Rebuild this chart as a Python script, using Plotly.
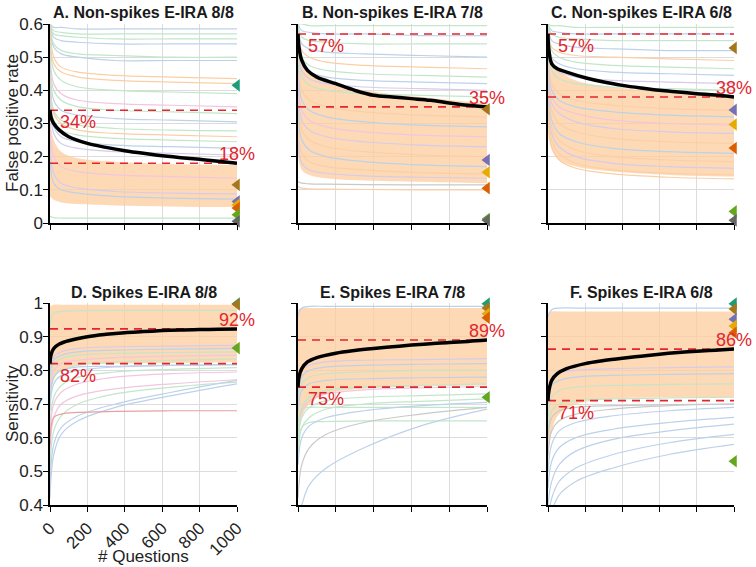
import plotly.graph_objects as go

# ---------------- data ----------------
PANEL_TITLES = ["A. Non-spikes E-IRA 8/8", "B. Non-spikes E-IRA 7/8", "C. Non-spikes E-IRA 6/8",
                "D. Spikes E-IRA 8/8", "E. Spikes E-IRA 7/8", "F. Spikes E-IRA 6/8"]
X_TICKS = [0, 200, 400, 600, 800, 1000]
Y_TICKS_TOP = [0, 0.1, 0.2, 0.3, 0.4, 0.5, 0.6]
Y_TICK_LABELS_TOP = ["0", "0.1", "0.2", "0.3", "0.4", "0.5", "0.6"]
Y_TICKS_BOT = [0.4, 0.5, 0.6, 0.7, 0.8, 0.9, 1.0]
Y_TICK_LABELS_BOT = ["0.4", "0.5", "0.6", "0.7", "0.8", "0.9", "1"]

# number of questions at which the mean curves were read
MEAN_X = [0, 5, 20, 50, 100, 200, 300, 400, 500, 600, 700, 800, 900, 1000]
A_MEAN = [0.34, 0.32, 0.30, 0.28, 0.26, 0.24, 0.228, 0.218, 0.21, 0.203, 0.197, 0.192, 0.186, 0.18]
B_MEAN = [0.57, 0.53, 0.49, 0.46, 0.44, 0.42, 0.40, 0.385, 0.38, 0.375, 0.37, 0.362, 0.355, 0.35]
C_MEAN = [0.57, 0.52, 0.48, 0.465, 0.455, 0.438, 0.425, 0.415, 0.407, 0.40, 0.395, 0.39, 0.386, 0.38]
D_MEAN = [0.82, 0.845, 0.865, 0.878, 0.888, 0.90, 0.907, 0.912, 0.915, 0.918, 0.92, 0.921, 0.922, 0.923]
E_MEAN = [0.75, 0.78, 0.805, 0.825, 0.838, 0.851, 0.859, 0.865, 0.87, 0.875, 0.879, 0.883, 0.886, 0.89]
F_MEAN = [0.71, 0.74, 0.77, 0.79, 0.805, 0.82, 0.829, 0.836, 0.842, 0.848, 0.853, 0.857, 0.86, 0.863]

# background (individual) curves, read at these numbers of questions
BG_X = [0, 20, 60, 150, 350, 650, 1000]

A_BAND_LO = [0.08, 0.07, 0.062, 0.057, 0.053, 0.05, 0.048]
A_BAND_HI = [0.33, 0.25, 0.215, 0.195, 0.185, 0.178, 0.175]
A_LINES = [
    [0.60, 0.59, 0.59, 0.585, 0.585, 0.585, 0.585],
    [0.60, 0.58, 0.575, 0.57, 0.57, 0.57, 0.57],
    [0.60, 0.57, 0.565, 0.56, 0.555, 0.555, 0.555],
    [0.60, 0.56, 0.55, 0.545, 0.54, 0.54, 0.54],
    [0.60, 0.54, 0.52, 0.51, 0.505, 0.50, 0.50],
    [0.59, 0.53, 0.51, 0.50, 0.49, 0.49, 0.49],
    [0.60, 0.50, 0.47, 0.455, 0.445, 0.44, 0.435],
    [0.58, 0.48, 0.455, 0.44, 0.43, 0.425, 0.42],
    [0.55, 0.46, 0.43, 0.41, 0.40, 0.395, 0.39],
    [0.52, 0.42, 0.39, 0.37, 0.36, 0.355, 0.35],
    [0.50, 0.40, 0.37, 0.35, 0.34, 0.335, 0.33],
    [0.48, 0.37, 0.34, 0.325, 0.315, 0.31, 0.305],
    [0.45, 0.34, 0.31, 0.295, 0.285, 0.28, 0.278],
    [0.44, 0.33, 0.30, 0.28, 0.27, 0.265, 0.26],
    [0.42, 0.31, 0.28, 0.265, 0.255, 0.25, 0.245],
    [0.40, 0.29, 0.26, 0.245, 0.235, 0.23, 0.225],
    [0.38, 0.27, 0.24, 0.225, 0.215, 0.21, 0.205],
    [0.30, 0.20, 0.17, 0.155, 0.145, 0.14, 0.135],
    [0.25, 0.15, 0.12, 0.105, 0.095, 0.09, 0.088],
    [0.20, 0.12, 0.10, 0.09, 0.08, 0.075, 0.072],
    [0.02, 0.016, 0.015, 0.015, 0.015, 0.015, 0.015],
]
A_LINE_COLORS = ["blue", "green", "green", "blue", "green", "blue", "orange", "orange", "green", "pink",
                 "green", "blue", "green", "orange", "green", "blue", "lavender", "pink", "lavender",
                 "blue", "green"]

B_BAND_LO = [0.20, 0.16, 0.145, 0.135, 0.128, 0.124, 0.12]
B_BAND_HI = [0.57, 0.50, 0.46, 0.43, 0.40, 0.38, 0.36]
B_LINES = [
    [0.60, 0.60, 0.595, 0.595, 0.595, 0.595, 0.595],
    [0.60, 0.58, 0.575, 0.57, 0.57, 0.565, 0.565],
    [0.60, 0.56, 0.55, 0.545, 0.54, 0.54, 0.54],
    [0.60, 0.54, 0.525, 0.515, 0.51, 0.505, 0.50],
    [0.60, 0.52, 0.50, 0.485, 0.475, 0.47, 0.465],
    [0.60, 0.50, 0.475, 0.46, 0.45, 0.445, 0.44],
    [0.58, 0.48, 0.455, 0.44, 0.43, 0.425, 0.42],
    [0.56, 0.46, 0.435, 0.42, 0.41, 0.405, 0.40],
    [0.55, 0.44, 0.415, 0.40, 0.39, 0.385, 0.38],
    [0.50, 0.40, 0.37, 0.35, 0.335, 0.325, 0.32],
    [0.48, 0.37, 0.34, 0.32, 0.305, 0.295, 0.29],
    [0.45, 0.34, 0.31, 0.29, 0.275, 0.265, 0.26],
    [0.42, 0.31, 0.28, 0.26, 0.245, 0.235, 0.23],
    [0.38, 0.28, 0.25, 0.23, 0.215, 0.205, 0.20],
    [0.35, 0.25, 0.22, 0.20, 0.185, 0.175, 0.17],
    [0.30, 0.21, 0.185, 0.17, 0.16, 0.152, 0.148],
    [0.25, 0.18, 0.16, 0.15, 0.142, 0.138, 0.135],
    [0.125, 0.12, 0.118, 0.117, 0.116, 0.115, 0.115],
    [0.11, 0.105, 0.103, 0.102, 0.101, 0.10, 0.10],
]
B_LINE_COLORS = ["green", "blue", "green", "blue", "orange", "green", "blue", "lavender", "green",
                 "orange", "blue", "pink", "lavender", "orange", "blue", "orange", "lavender", "gray",
                 "orange"]

C_BAND_LO = [0.27, 0.22, 0.19, 0.17, 0.155, 0.145, 0.14]
C_BAND_HI = [0.57, 0.50, 0.46, 0.43, 0.41, 0.395, 0.385]
C_LINES = [
    [0.60, 0.595, 0.595, 0.59, 0.59, 0.59, 0.59],
    [0.60, 0.58, 0.575, 0.57, 0.57, 0.57, 0.57],
    [0.60, 0.57, 0.56, 0.555, 0.55, 0.55, 0.55],
    [0.60, 0.55, 0.54, 0.53, 0.525, 0.52, 0.52],
    [0.60, 0.53, 0.515, 0.505, 0.50, 0.495, 0.49],
    [0.60, 0.52, 0.50, 0.485, 0.475, 0.47, 0.465],
    [0.58, 0.50, 0.48, 0.465, 0.455, 0.45, 0.445],
    [0.57, 0.48, 0.455, 0.44, 0.43, 0.425, 0.42],
    [0.56, 0.46, 0.435, 0.42, 0.41, 0.405, 0.40],
    [0.52, 0.42, 0.39, 0.37, 0.355, 0.345, 0.34],
    [0.50, 0.40, 0.37, 0.35, 0.335, 0.325, 0.32],
    [0.48, 0.38, 0.35, 0.33, 0.31, 0.30, 0.295],
    [0.46, 0.36, 0.33, 0.305, 0.285, 0.275, 0.27],
    [0.44, 0.34, 0.30, 0.275, 0.255, 0.245, 0.24],
    [0.42, 0.31, 0.27, 0.245, 0.225, 0.215, 0.21],
    [0.40, 0.29, 0.25, 0.22, 0.20, 0.19, 0.185],
    [0.38, 0.27, 0.23, 0.20, 0.18, 0.17, 0.165],
    [0.35, 0.25, 0.21, 0.18, 0.16, 0.15, 0.145],
    [0.32, 0.23, 0.19, 0.165, 0.148, 0.138, 0.133],
]
C_LINE_COLORS = ["green", "blue", "green", "blue", "orange", "green", "blue", "lavender", "green",
                 "orange", "blue", "pink", "lavender", "orange", "blue", "orange", "lavender",
                 "orange", "orange"]

D_BAND_LO = [0.70, 0.77, 0.80, 0.815, 0.82, 0.822, 0.825]
D_BAND_HI = [0.99, 0.995, 0.995, 0.995, 0.995, 0.995, 0.995]
D_LINES = [
    [0.93, 0.97, 0.975, 0.977, 0.978, 0.978, 0.978],
    [0.80, 0.84, 0.855, 0.865, 0.87, 0.872, 0.874],
    [0.78, 0.83, 0.845, 0.855, 0.86, 0.863, 0.865],
    [0.76, 0.82, 0.835, 0.845, 0.85, 0.853, 0.855],
    [0.74, 0.80, 0.82, 0.83, 0.838, 0.842, 0.845],
    [0.70, 0.78, 0.80, 0.815, 0.825, 0.83, 0.833],
    [0.70, 0.78, 0.80, 0.81, 0.812, 0.815, 0.816],
    [0.68, 0.76, 0.785, 0.80, 0.81, 0.815, 0.818],
    [0.62, 0.72, 0.755, 0.78, 0.795, 0.803, 0.808],
    [0.60, 0.70, 0.735, 0.76, 0.78, 0.79, 0.795],
    [0.55, 0.66, 0.70, 0.725, 0.745, 0.76, 0.772],
    [0.50, 0.62, 0.665, 0.70, 0.73, 0.75, 0.765],
    [0.45, 0.58, 0.63, 0.665, 0.70, 0.735, 0.77],
    [0.42, 0.55, 0.61, 0.65, 0.69, 0.725, 0.76],
    [0.58, 0.66, 0.67, 0.675, 0.678, 0.68, 0.68],
]
D_LINE_COLORS = ["green", "lavender", "blue", "green", "pink", "green", "blue", "blue", "green",
                 "pink", "pink", "green", "blue", "blue", "red"]

E_BAND_LO = [0.55, 0.66, 0.70, 0.73, 0.745, 0.752, 0.755]
E_BAND_HI = [0.98, 0.985, 0.985, 0.985, 0.985, 0.985, 0.985]
E_LINES = [
    [0.96, 0.985, 0.99, 0.99, 0.99, 0.99, 0.99],
    [0.75, 0.80, 0.815, 0.825, 0.83, 0.832, 0.835],
    [0.72, 0.78, 0.80, 0.81, 0.815, 0.818, 0.82],
    [0.70, 0.76, 0.78, 0.79, 0.795, 0.80, 0.80],
    [0.68, 0.74, 0.76, 0.77, 0.775, 0.778, 0.78],
    [0.60, 0.68, 0.71, 0.73, 0.742, 0.748, 0.752],
    [0.62, 0.69, 0.72, 0.74, 0.75, 0.755, 0.76],
    [0.58, 0.66, 0.69, 0.71, 0.72, 0.725, 0.73],
    [0.55, 0.63, 0.66, 0.685, 0.70, 0.708, 0.715],
    [0.62, 0.685, 0.69, 0.69, 0.69, 0.69, 0.69],
    [0.55, 0.63, 0.645, 0.648, 0.65, 0.65, 0.65],
    [0.52, 0.60, 0.635, 0.66, 0.68, 0.695, 0.705],
    [0.42, 0.52, 0.57, 0.61, 0.645, 0.67, 0.69],
    [0.36, 0.40, 0.46, 0.51, 0.57, 0.635, 0.685],
]
E_LINE_COLORS = ["blue", "lavender", "blue", "green", "blue", "pink", "green", "green", "green",
                 "green", "green", "blue", "gray", "blue"]

F_BAND_LO = [0.50, 0.62, 0.67, 0.70, 0.715, 0.72, 0.72]
F_BAND_HI = [0.97, 0.975, 0.975, 0.975, 0.975, 0.975, 0.975]
F_LINES = [
    [0.96, 0.98, 0.985, 0.985, 0.985, 0.985, 0.985],
    [0.74, 0.78, 0.795, 0.80, 0.805, 0.808, 0.81],
    [0.70, 0.755, 0.77, 0.78, 0.785, 0.788, 0.79],
    [0.66, 0.72, 0.74, 0.75, 0.755, 0.758, 0.76],
    [0.62, 0.68, 0.70, 0.71, 0.715, 0.718, 0.72],
    [0.60, 0.66, 0.68, 0.69, 0.695, 0.698, 0.70],
    [0.55, 0.62, 0.65, 0.67, 0.685, 0.695, 0.70],
    [0.50, 0.58, 0.62, 0.645, 0.665, 0.68, 0.69],
    [0.45, 0.53, 0.57, 0.60, 0.625, 0.645, 0.66],
    [0.40, 0.47, 0.52, 0.56, 0.595, 0.62, 0.64],
    [0.36, 0.42, 0.47, 0.51, 0.55, 0.585, 0.61],
    [0.33, 0.38, 0.43, 0.47, 0.51, 0.55, 0.58],
]
F_LINE_COLORS = ["blue", "lavender", "blue", "green", "green", "gray", "gray", "blue", "blue",
                 "blue", "blue", "blue"]

# group markers at the final number of questions (Dark2 colours)
A_TRI_VALUES = [0.415, 0.115, 0.065, 0.055, 0.045, 0.025, 0.005]
A_TRI_COLORS = ["teal", "brown", "purple", "yellow", "orange", "green", "gray"]
B_TRI_VALUES = [0.343, 0.19, 0.153, 0.105, 0.012, 0.008]
B_TRI_COLORS = ["brown", "purple", "yellow", "orange", "green", "gray"]
C_TRI_VALUES = [0.528, 0.341, 0.297, 0.226, 0.035, 0.008]
C_TRI_COLORS = ["brown", "purple", "yellow", "orange", "green", "gray"]
D_TRI_VALUES = [0.998, 0.996, 0.866]
D_TRI_COLORS = ["teal", "brown", "green"]
E_TRI_VALUES = [0.998, 0.985, 0.968, 0.956, 0.72]
E_TRI_COLORS = ["teal", "brown", "yellow", "orange", "green"]
F_TRI_VALUES = [0.998, 0.982, 0.952, 0.932, 0.912, 0.53]
F_TRI_COLORS = ["teal", "brown", "purple", "yellow", "orange", "green"]

# ---------------- styles ----------------
PASTEL = {"green": "#c2e6c9", "blue": "#bcd2ea", "orange": "#fbcfa6", "pink": "#f1c6de",
          "lavender": "#d6cbeb", "gray": "#c9c9c9", "red": "#e6a1a1"}
DARK2 = {"teal": "#1b9e77", "orange": "#d95f02", "purple": "#7570b3", "green": "#66a61e",
         "yellow": "#e6ab02", "brown": "#a6761d", "gray": "#666666"}
FONT = "Liberation Sans, Arial, sans-serif"
RED = "#e3262e"

panels = [
    (A_MEAN, A_LINES, A_LINE_COLORS, A_BAND_LO, A_BAND_HI, A_TRI_VALUES, A_TRI_COLORS),
    (B_MEAN, B_LINES, B_LINE_COLORS, B_BAND_LO, B_BAND_HI, B_TRI_VALUES, B_TRI_COLORS),
    (C_MEAN, C_LINES, C_LINE_COLORS, C_BAND_LO, C_BAND_HI, C_TRI_VALUES, C_TRI_COLORS),
    (D_MEAN, D_LINES, D_LINE_COLORS, D_BAND_LO, D_BAND_HI, D_TRI_VALUES, D_TRI_COLORS),
    (E_MEAN, E_LINES, E_LINE_COLORS, E_BAND_LO, E_BAND_HI, E_TRI_VALUES, E_TRI_COLORS),
    (F_MEAN, F_LINES, F_LINE_COLORS, F_BAND_LO, F_BAND_HI, F_TRI_VALUES, F_TRI_COLORS),
]

W, H = 756, 567
COLS_PX = [(50, 237), (298, 487), (548, 734)]
ROWS_PX = [(24, 223), (303, 505)]


def px_x(p):
    return p / W


def px_y(p):
    return 1 - p / H


fig = go.Figure()
annotations = []

for i, (mean, lines, lcols, blo, bhi, tv, tc) in enumerate(panels):
    r, c = divmod(i, 3)
    xa = "x" if i == 0 else f"x{i+1}"
    ya = "y" if i == 0 else f"y{i+1}"
    # dense orange region
    fig.add_trace(go.Scatter(x=BG_X, y=blo, mode="lines", line=dict(width=0, shape="spline", color="rgba(0,0,0,0)"),
                             xaxis=xa, yaxis=ya, hoverinfo="skip", showlegend=False))
    fig.add_trace(go.Scatter(x=BG_X, y=bhi, mode="lines", fill="tonexty", fillcolor="rgba(252,206,162,0.78)",
                             line=dict(width=0, shape="spline", color="rgba(0,0,0,0)"),
                             xaxis=xa, yaxis=ya, hoverinfo="skip", showlegend=False))
    for vals, col in zip(lines, lcols):
        fig.add_trace(go.Scatter(x=BG_X, y=vals, mode="lines", line=dict(width=1.2, color=PASTEL[col], shape="spline"),
                                 xaxis=xa, yaxis=ya, hoverinfo="skip", showlegend=False))
    start, end = mean[0], mean[-1]
    for v in (start, end):
        fig.add_trace(go.Scatter(x=[MEAN_X[0], MEAN_X[-1]], y=[v, v], mode="lines",
                                 line=dict(width=1.6, color=RED, dash="8px,6px"),
                                 xaxis=xa, yaxis=ya, hoverinfo="skip", showlegend=False))
    fig.add_trace(go.Scatter(x=MEAN_X, y=mean, mode="lines", line=dict(width=3.5, color="black", shape="spline"),
                             xaxis=xa, yaxis=ya, showlegend=False))
    fig.add_trace(go.Scatter(x=[MEAN_X[-1]] * len(tv), y=tv, mode="markers", cliponaxis=False,
                             marker=dict(symbol="triangle-left", size=11, color=[DARK2[k] for k in tc], line=dict(width=0)),
                             xaxis=xa, yaxis=ya, showlegend=False))
    annotations.append(dict(x=MEAN_X[0], y=start, xref=xa, yref=ya, text=f"{round(start*100)}%",
                            showarrow=False, xanchor="left", yanchor="middle", xshift=8, yshift=-12,
                            font=dict(family=FONT, size=18, color=RED)))
    annotations.append(dict(x=MEAN_X[-1], y=end, xref=xa, yref=ya, text=f"{round(end*100)}%",
                            showarrow=False, xanchor="center", yanchor="middle", yshift=9,
                            font=dict(family=FONT, size=18, color=RED)))
    # title
    x0, x1 = COLS_PX[c]
    ty = 12 if r == 0 else 292
    annotations.append(dict(x=px_x((x0 + x1) / 2), y=px_y(ty), xref="paper", yref="paper",
                            text=f"<b>{PANEL_TITLES[i]}</b>", showarrow=False, xanchor="center", yanchor="middle",
                            font=dict(family=FONT, size=16, color="#1a1a1a")))

layout = dict(width=W, height=H, margin=dict(l=0, r=0, t=0, b=0, autoexpand=False), paper_bgcolor="white",
              plot_bgcolor="white", showlegend=False, template="none")
for i in range(6):
    r, c = divmod(i, 3)
    x0, x1 = COLS_PX[c]
    y0, y1 = ROWS_PX[r]
    xk = "xaxis" if i == 0 else f"xaxis{i+1}"
    yk = "yaxis" if i == 0 else f"yaxis{i+1}"
    ya = "y" if i == 0 else f"y{i+1}"
    xa = "x" if i == 0 else f"x{i+1}"
    layout[xk] = dict(domain=[px_x(x0), px_x(x1)], range=[0, 1000], anchor=ya, tickvals=X_TICKS,
                      ticktext=[str(t) for t in X_TICKS], showticklabels=(i == 3), tickangle=-45,
                      ticks="outside", ticklen=5, tickcolor="black", showline=True, linecolor="black",
                      linewidth=1.5, showgrid=True, gridcolor="#dcdcdc", gridwidth=1, zeroline=False,
                      automargin=False, tickfont=dict(family=FONT, size=17, color="#222222"))
    if r == 0:
        tvals, ttext, rng = Y_TICKS_TOP, Y_TICK_LABELS_TOP, [0, 0.6]
    else:
        tvals, ttext, rng = Y_TICKS_BOT, Y_TICK_LABELS_BOT, [0.4, 1.0]
    layout[yk] = dict(domain=[px_y(y1), px_y(y0)], range=rng, anchor=xa, tickvals=tvals, ticktext=ttext,
                      showticklabels=(c == 0), ticks="outside", ticklen=5, tickcolor="black", showline=True,
                      linecolor="black", linewidth=1.5, showgrid=True, gridcolor="#dcdcdc", gridwidth=1,
                      zeroline=False, automargin=False, ticklabelstandoff=-3,
                      tickfont=dict(family=FONT, size=17, color="#222222"))

annotations.append(dict(x=px_x(12), y=px_y(123), xref="paper", yref="paper", text="False positive rate",
                        textangle=-90, showarrow=False, xanchor="center", yanchor="middle",
                        font=dict(family=FONT, size=17, color="#222222")))
annotations.append(dict(x=px_x(12), y=px_y(404), xref="paper", yref="paper", text="Sensitivity",
                        textangle=-90, showarrow=False, xanchor="center", yanchor="middle",
                        font=dict(family=FONT, size=17, color="#222222")))
annotations.append(dict(x=px_x(143), y=px_y(556), xref="paper", yref="paper", text="# Questions",
                        showarrow=False, xanchor="center", yanchor="middle",
                        font=dict(family=FONT, size=17, color="#222222")))
layout["annotations"] = annotations
fig.update_layout(**layout)
# the page's default body margin would push the figure 8 px right and down
fig.write_html("out.html", config={"displayModeBar": False},
               post_script="document.body.style.margin='0px';document.body.style.padding='0px';")
